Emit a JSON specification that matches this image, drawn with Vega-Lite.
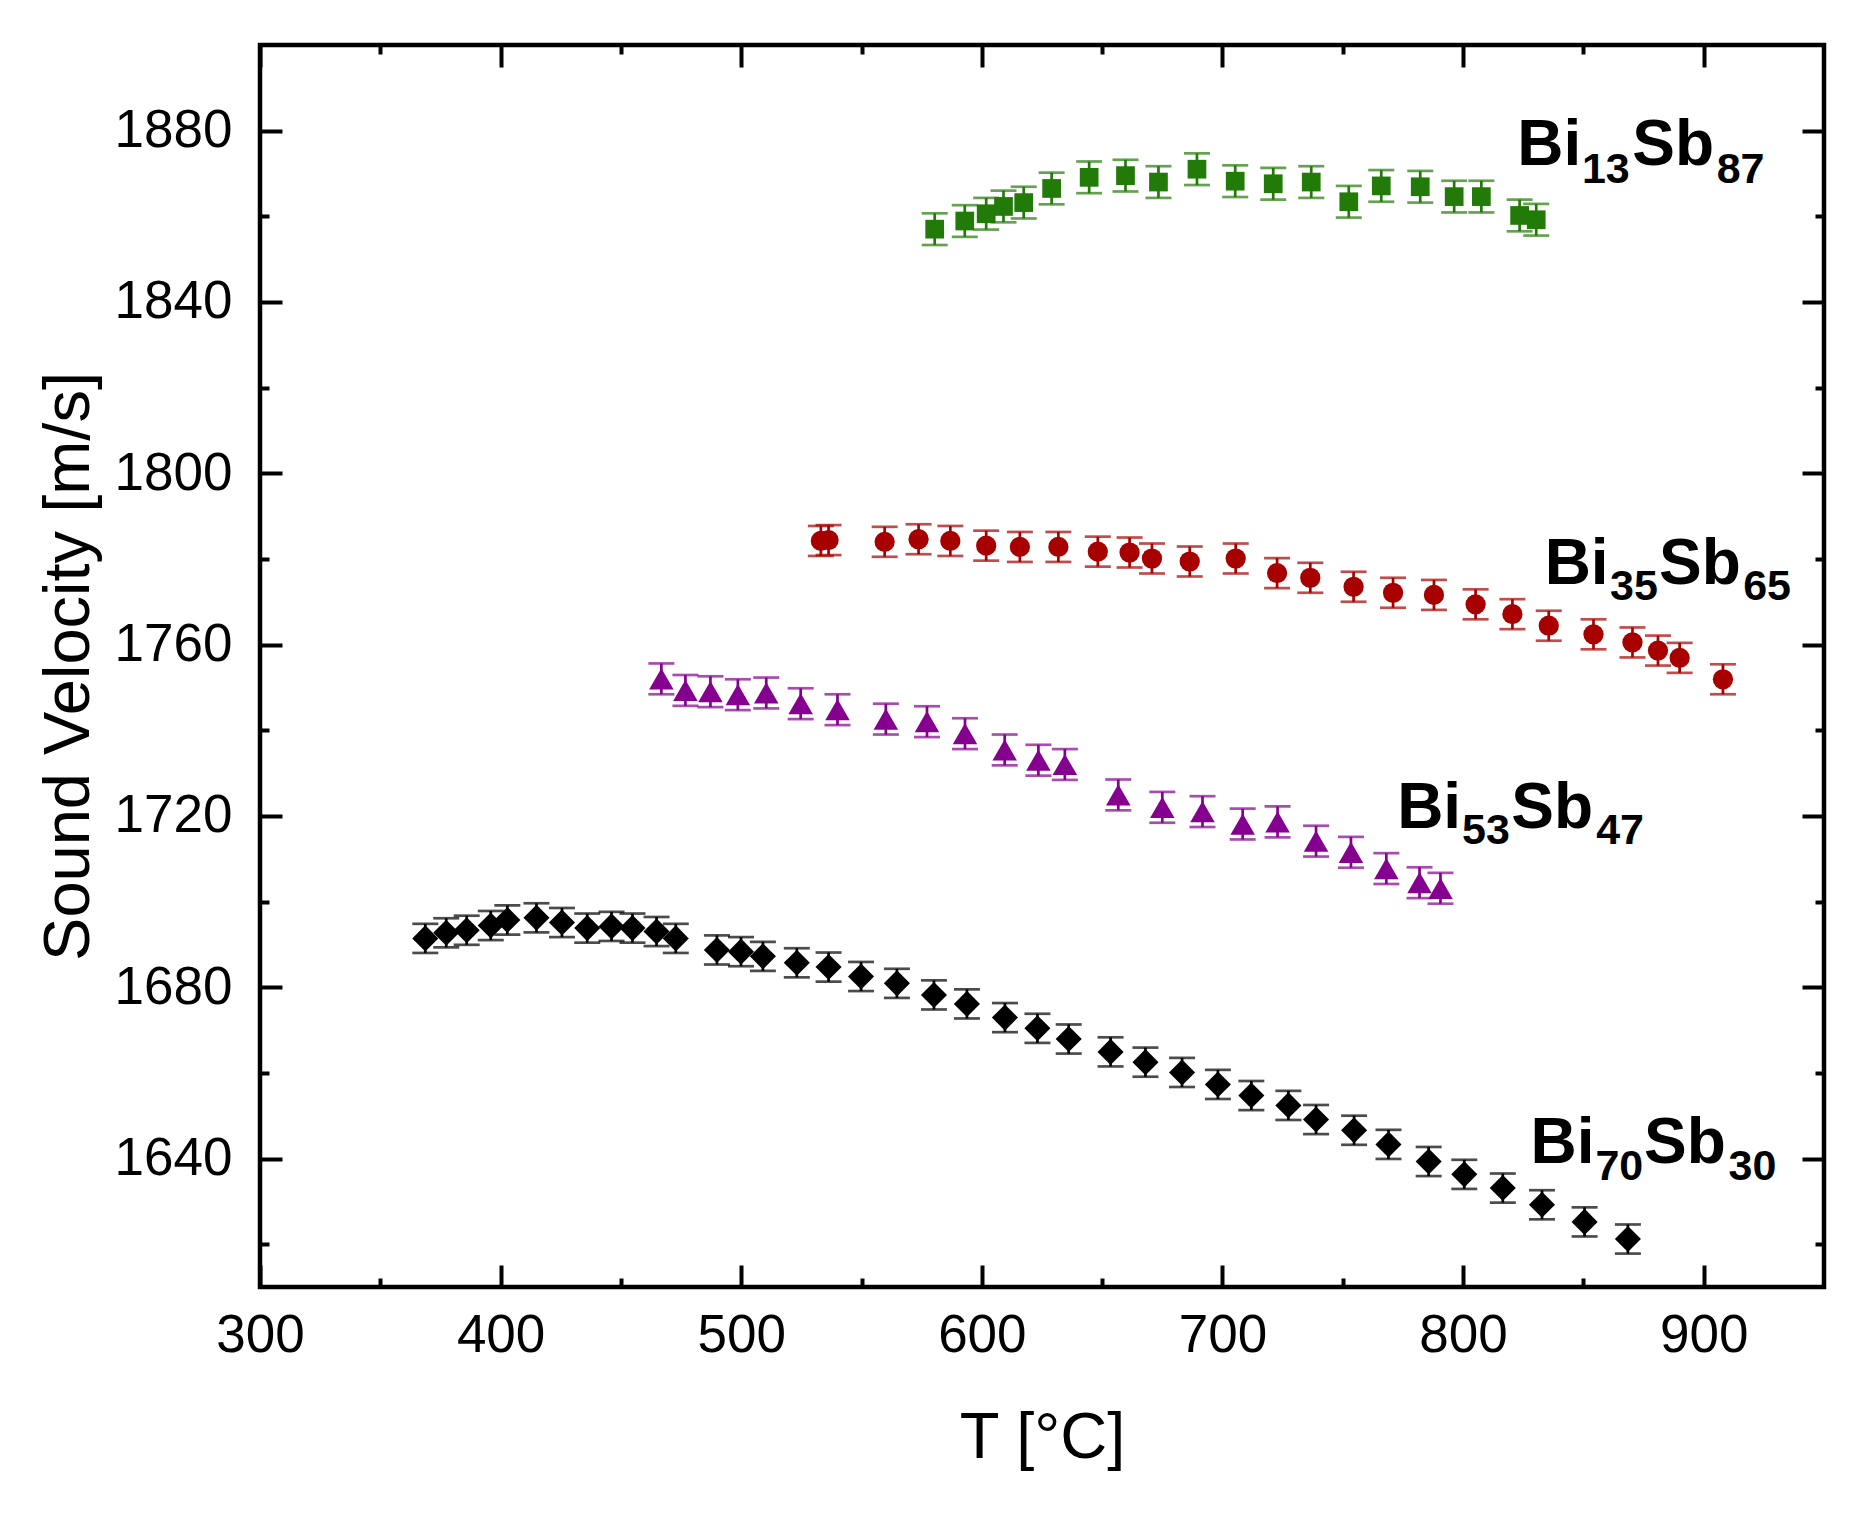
{
  "$schema": "https://vega.github.io/schema/vega-lite/v6.json",
  "width": 1564,
  "height": 1242,
  "autosize": "none",
  "padding": {"left": 260, "top": 45, "right": 51, "bottom": 229},
  "background": "white",
  "datasets": {
    "pts": [
      {"series": "Bi13Sb87", "T": 580.4, "v": 1857.0, "err": 3.7},
      {"series": "Bi13Sb87", "T": 592.9, "v": 1858.9, "err": 3.7},
      {"series": "Bi13Sb87", "T": 601.8, "v": 1860.6, "err": 3.7},
      {"series": "Bi13Sb87", "T": 609.0, "v": 1862.3, "err": 3.7},
      {"series": "Bi13Sb87", "T": 617.4, "v": 1863.2, "err": 3.7},
      {"series": "Bi13Sb87", "T": 629.0, "v": 1866.5, "err": 3.7},
      {"series": "Bi13Sb87", "T": 644.6, "v": 1869.1, "err": 3.7},
      {"series": "Bi13Sb87", "T": 659.7, "v": 1869.5, "err": 3.7},
      {"series": "Bi13Sb87", "T": 673.4, "v": 1868.0, "err": 3.7},
      {"series": "Bi13Sb87", "T": 689.4, "v": 1871.0, "err": 3.7},
      {"series": "Bi13Sb87", "T": 705.3, "v": 1868.2, "err": 3.7},
      {"series": "Bi13Sb87", "T": 721.1, "v": 1867.6, "err": 3.7},
      {"series": "Bi13Sb87", "T": 736.9, "v": 1868.0, "err": 3.7},
      {"series": "Bi13Sb87", "T": 752.5, "v": 1863.4, "err": 3.7},
      {"series": "Bi13Sb87", "T": 766.0, "v": 1867.1, "err": 3.7},
      {"series": "Bi13Sb87", "T": 782.2, "v": 1866.9, "err": 3.7},
      {"series": "Bi13Sb87", "T": 796.3, "v": 1864.6, "err": 3.7},
      {"series": "Bi13Sb87", "T": 807.6, "v": 1864.6, "err": 3.7},
      {"series": "Bi13Sb87", "T": 823.5, "v": 1860.2, "err": 3.7},
      {"series": "Bi13Sb87", "T": 830.4, "v": 1859.2, "err": 3.7},
      {"series": "Bi35Sb65", "T": 533.1, "v": 1784.2, "err": 3.5},
      {"series": "Bi35Sb65", "T": 536.3, "v": 1784.4, "err": 3.5},
      {"series": "Bi35Sb65", "T": 559.6, "v": 1784.0, "err": 3.5},
      {"series": "Bi35Sb65", "T": 573.7, "v": 1784.6, "err": 3.5},
      {"series": "Bi35Sb65", "T": 586.9, "v": 1784.2, "err": 3.5},
      {"series": "Bi35Sb65", "T": 601.8, "v": 1783.1, "err": 3.5},
      {"series": "Bi35Sb65", "T": 615.8, "v": 1782.8, "err": 3.5},
      {"series": "Bi35Sb65", "T": 631.8, "v": 1782.8, "err": 3.5},
      {"series": "Bi35Sb65", "T": 648.2, "v": 1781.7, "err": 3.5},
      {"series": "Bi35Sb65", "T": 661.4, "v": 1781.5, "err": 3.5},
      {"series": "Bi35Sb65", "T": 670.7, "v": 1780.1, "err": 3.5},
      {"series": "Bi35Sb65", "T": 686.4, "v": 1779.4, "err": 3.5},
      {"series": "Bi35Sb65", "T": 705.5, "v": 1780.1, "err": 3.5},
      {"series": "Bi35Sb65", "T": 722.7, "v": 1776.7, "err": 3.5},
      {"series": "Bi35Sb65", "T": 736.5, "v": 1775.6, "err": 3.5},
      {"series": "Bi35Sb65", "T": 754.5, "v": 1773.5, "err": 3.5},
      {"series": "Bi35Sb65", "T": 770.9, "v": 1772.1, "err": 3.5},
      {"series": "Bi35Sb65", "T": 787.9, "v": 1771.6, "err": 3.5},
      {"series": "Bi35Sb65", "T": 805.2, "v": 1769.4, "err": 3.5},
      {"series": "Bi35Sb65", "T": 820.5, "v": 1767.1, "err": 3.5},
      {"series": "Bi35Sb65", "T": 835.6, "v": 1764.4, "err": 3.5},
      {"series": "Bi35Sb65", "T": 854.2, "v": 1762.4, "err": 3.5},
      {"series": "Bi35Sb65", "T": 870.4, "v": 1760.5, "err": 3.5},
      {"series": "Bi35Sb65", "T": 881.0, "v": 1758.6, "err": 3.5},
      {"series": "Bi35Sb65", "T": 890.0, "v": 1756.9, "err": 3.5},
      {"series": "Bi35Sb65", "T": 908.0, "v": 1751.9, "err": 3.5},
      {"series": "Bi53Sb47", "T": 466.8, "v": 1752.0, "err": 3.6},
      {"series": "Bi53Sb47", "T": 476.8, "v": 1749.3, "err": 3.6},
      {"series": "Bi53Sb47", "T": 487.2, "v": 1749.0, "err": 3.6},
      {"series": "Bi53Sb47", "T": 498.6, "v": 1748.3, "err": 3.6},
      {"series": "Bi53Sb47", "T": 510.4, "v": 1748.7, "err": 3.6},
      {"series": "Bi53Sb47", "T": 524.7, "v": 1746.2, "err": 3.6},
      {"series": "Bi53Sb47", "T": 540.0, "v": 1744.8, "err": 3.6},
      {"series": "Bi53Sb47", "T": 560.1, "v": 1742.6, "err": 3.6},
      {"series": "Bi53Sb47", "T": 577.2, "v": 1742.0, "err": 3.6},
      {"series": "Bi53Sb47", "T": 593.0, "v": 1739.2, "err": 3.6},
      {"series": "Bi53Sb47", "T": 609.5, "v": 1735.4, "err": 3.6},
      {"series": "Bi53Sb47", "T": 623.5, "v": 1733.0, "err": 3.6},
      {"series": "Bi53Sb47", "T": 634.5, "v": 1732.0, "err": 3.6},
      {"series": "Bi53Sb47", "T": 656.7, "v": 1724.9, "err": 3.6},
      {"series": "Bi53Sb47", "T": 675.0, "v": 1722.0, "err": 3.6},
      {"series": "Bi53Sb47", "T": 691.7, "v": 1721.0, "err": 3.6},
      {"series": "Bi53Sb47", "T": 708.4, "v": 1718.1, "err": 3.6},
      {"series": "Bi53Sb47", "T": 722.9, "v": 1718.6, "err": 3.6},
      {"series": "Bi53Sb47", "T": 738.9, "v": 1714.1, "err": 3.6},
      {"series": "Bi53Sb47", "T": 753.4, "v": 1711.5, "err": 3.6},
      {"series": "Bi53Sb47", "T": 768.1, "v": 1707.7, "err": 3.6},
      {"series": "Bi53Sb47", "T": 781.9, "v": 1704.4, "err": 3.6},
      {"series": "Bi53Sb47", "T": 790.6, "v": 1703.1, "err": 3.6},
      {"series": "Bi70Sb30", "T": 368.7, "v": 1691.4, "err": 3.4},
      {"series": "Bi70Sb30", "T": 377.4, "v": 1692.7, "err": 3.4},
      {"series": "Bi70Sb30", "T": 385.9, "v": 1693.3, "err": 3.4},
      {"series": "Bi70Sb30", "T": 395.9, "v": 1694.4, "err": 3.4},
      {"series": "Bi70Sb30", "T": 402.8, "v": 1695.7, "err": 3.4},
      {"series": "Bi70Sb30", "T": 414.9, "v": 1696.2, "err": 3.4},
      {"series": "Bi70Sb30", "T": 425.5, "v": 1695.1, "err": 3.4},
      {"series": "Bi70Sb30", "T": 436.0, "v": 1693.8, "err": 3.4},
      {"series": "Bi70Sb30", "T": 446.1, "v": 1694.2, "err": 3.4},
      {"series": "Bi70Sb30", "T": 454.8, "v": 1693.8, "err": 3.4},
      {"series": "Bi70Sb30", "T": 464.8, "v": 1693.0, "err": 3.4},
      {"series": "Bi70Sb30", "T": 472.8, "v": 1691.4, "err": 3.4},
      {"series": "Bi70Sb30", "T": 489.9, "v": 1688.7, "err": 3.4},
      {"series": "Bi70Sb30", "T": 499.9, "v": 1688.3, "err": 3.4},
      {"series": "Bi70Sb30", "T": 509.0, "v": 1687.2, "err": 3.4},
      {"series": "Bi70Sb30", "T": 523.1, "v": 1685.7, "err": 3.4},
      {"series": "Bi70Sb30", "T": 536.3, "v": 1684.7, "err": 3.4},
      {"series": "Bi70Sb30", "T": 549.8, "v": 1682.5, "err": 3.4},
      {"series": "Bi70Sb30", "T": 564.7, "v": 1680.9, "err": 3.4},
      {"series": "Bi70Sb30", "T": 580.1, "v": 1678.2, "err": 3.4},
      {"series": "Bi70Sb30", "T": 593.8, "v": 1676.1, "err": 3.4},
      {"series": "Bi70Sb30", "T": 609.6, "v": 1672.9, "err": 3.4},
      {"series": "Bi70Sb30", "T": 623.1, "v": 1670.4, "err": 3.4},
      {"series": "Bi70Sb30", "T": 636.1, "v": 1667.9, "err": 3.4},
      {"series": "Bi70Sb30", "T": 653.5, "v": 1664.9, "err": 3.4},
      {"series": "Bi70Sb30", "T": 668.0, "v": 1662.5, "err": 3.4},
      {"series": "Bi70Sb30", "T": 683.2, "v": 1660.1, "err": 3.4},
      {"series": "Bi70Sb30", "T": 698.1, "v": 1657.3, "err": 3.4},
      {"series": "Bi70Sb30", "T": 712.0, "v": 1654.7, "err": 3.4},
      {"series": "Bi70Sb30", "T": 727.4, "v": 1652.4, "err": 3.4},
      {"series": "Bi70Sb30", "T": 738.9, "v": 1649.1, "err": 3.4},
      {"series": "Bi70Sb30", "T": 754.7, "v": 1646.6, "err": 3.4},
      {"series": "Bi70Sb30", "T": 769.0, "v": 1643.3, "err": 3.4},
      {"series": "Bi70Sb30", "T": 785.7, "v": 1639.3, "err": 3.4},
      {"series": "Bi70Sb30", "T": 800.5, "v": 1636.3, "err": 3.4},
      {"series": "Bi70Sb30", "T": 816.5, "v": 1633.1, "err": 3.4},
      {"series": "Bi70Sb30", "T": 832.8, "v": 1629.2, "err": 3.4},
      {"series": "Bi70Sb30", "T": 850.5, "v": 1625.2, "err": 3.4},
      {"series": "Bi70Sb30", "T": 868.5, "v": 1621.2, "err": 3.4}
    ],
    "labels": [
      {"label": "Bi13Sb87", "part": "main", "text": "Bi", "x": 822.5, "y": 1872.0},
      {"label": "Bi13Sb87", "part": "sub", "text": "13", "x": 849.4, "y": 1867.7},
      {"label": "Bi13Sb87", "part": "main", "text": "Sb", "x": 870.3, "y": 1872.0},
      {"label": "Bi13Sb87", "part": "sub", "text": "87", "x": 905.4, "y": 1867.7},
      {"label": "Bi35Sb65", "part": "main", "text": "Bi", "x": 833.9, "y": 1774.15},
      {"label": "Bi35Sb65", "part": "sub", "text": "35", "x": 861.1, "y": 1770.4},
      {"label": "Bi35Sb65", "part": "main", "text": "Sb", "x": 881.4, "y": 1774.15},
      {"label": "Bi35Sb65", "part": "sub", "text": "65", "x": 916.4, "y": 1770.4},
      {"label": "Bi53Sb47", "part": "main", "text": "Bi", "x": 772.6, "y": 1717.1},
      {"label": "Bi53Sb47", "part": "sub", "text": "53", "x": 799.6, "y": 1713.4},
      {"label": "Bi53Sb47", "part": "main", "text": "Sb", "x": 820.0, "y": 1717.1},
      {"label": "Bi53Sb47", "part": "sub", "text": "47", "x": 855.3, "y": 1713.4},
      {"label": "Bi70Sb30", "part": "main", "text": "Bi", "x": 828.0, "y": 1639.0},
      {"label": "Bi70Sb30", "part": "sub", "text": "70", "x": 855.0, "y": 1635.1},
      {"label": "Bi70Sb30", "part": "main", "text": "Sb", "x": 875.2, "y": 1639.0},
      {"label": "Bi70Sb30", "part": "sub", "text": "30", "x": 910.3, "y": 1635.1}
    ]
  },
  "layer": [
    {
      "data": {"name": "pts"},
      "mark": {"type": "errorbar", "ticks": {"size": 26}, "thickness": 2.7},
      "encoding": {
        "x": {
          "field": "T", "type": "quantitative",
          "scale": {"domain": [300, 950], "nice": false, "zero": false},
          "axis": {
            "orient": "bottom", "values": [300, 400, 500, 600, 700, 800, 900], "format": "d",
            "title": "T [°C]", "tickSize": -22, "labelPadding": 44, "labelFlush": false,
            "titleY": 170, "titleBaseline": "alphabetic"
          }
        },
        "y": {
          "field": "v", "type": "quantitative",
          "scale": {"domain": [1610, 1900], "nice": false, "zero": false},
          "axis": {
            "orient": "left", "values": [1640, 1680, 1720, 1760, 1800, 1840, 1880], "format": "d",
            "title": "Sound Velocity [m/s]", "tickSize": -22, "labelPadding": 50, "labelFlush": false,
            "titleX": -172, "titleY": 621, "titleAngle": -90,
            "titleBaseline": "alphabetic", "titleAlign": "center"
          }
        },
        "yError": {"field": "err"},
        "color": {
          "field": "series", "type": "nominal", "legend": null,
          "scale": {
            "domain": ["Bi13Sb87", "Bi35Sb65", "Bi53Sb47", "Bi70Sb30"],
            "range": ["#227a08", "#a80000", "#85008f", "#000000"]
          }
        }
      }
    },
    {
      "data": {"name": "pts"},
      "mark": {"type": "point", "filled": true, "opacity": 1},
      "encoding": {
        "x": {
          "field": "T", "type": "quantitative",
          "scale": {"domain": [300, 950], "nice": false, "zero": false},
          "axis": {"orient": "top", "values": [300, 400, 500, 600, 700, 800, 900], "labels": false, "title": null, "tickSize": -22}
        },
        "y": {
          "field": "v", "type": "quantitative",
          "scale": {"domain": [1610, 1900], "nice": false, "zero": false},
          "axis": {"orient": "right", "values": [1640, 1680, 1720, 1760, 1800, 1840, 1880], "labels": false, "title": null, "tickSize": -22}
        },
        "color": {"field": "series", "type": "nominal", "legend": null},
        "shape": {
          "field": "series", "type": "nominal", "legend": null,
          "scale": {
            "domain": ["Bi13Sb87", "Bi35Sb65", "Bi53Sb47", "Bi70Sb30"],
            "range": ["square", "circle", "triangle-up", "diamond"]
          }
        },
        "size": {
          "field": "series", "type": "nominal", "legend": null,
          "scale": {
            "type": "ordinal",
            "domain": ["Bi13Sb87", "Bi35Sb65", "Bi53Sb47", "Bi70Sb30"],
            "range": [350, 410, 600, 680]
          }
        }
      }
    },
    {
      "data": {"name": "labels"},
      "transform": [{"filter": "datum.part == 'main'"}],
      "mark": {"type": "text", "align": "left", "baseline": "alphabetic", "fontSize": 64, "fontWeight": "bold", "font": "Liberation Sans", "color": "black"},
      "encoding": {
        "x": {
          "field": "x", "type": "quantitative",
          "scale": {"domain": [300, 950], "nice": false, "zero": false},
          "axis": {"orient": "bottom", "values": [350, 450, 550, 650, 750, 850], "labels": false, "title": null, "tickSize": -9}
        },
        "y": {
          "field": "y", "type": "quantitative",
          "scale": {"domain": [1610, 1900], "nice": false, "zero": false},
          "axis": {"orient": "left", "values": [1620, 1660, 1700, 1740, 1780, 1820, 1860], "labels": false, "title": null, "tickSize": -9}
        },
        "text": {"field": "text"}
      }
    },
    {
      "data": {"name": "labels"},
      "transform": [{"filter": "datum.part == 'sub'"}],
      "mark": {"type": "text", "align": "left", "baseline": "alphabetic", "fontSize": 43, "fontWeight": "bold", "font": "Liberation Sans", "color": "black"},
      "encoding": {
        "x": {
          "field": "x", "type": "quantitative",
          "scale": {"domain": [300, 950], "nice": false, "zero": false},
          "axis": {"orient": "top", "values": [350, 450, 550, 650, 750, 850], "labels": false, "title": null, "tickSize": -9}
        },
        "y": {
          "field": "y", "type": "quantitative",
          "scale": {"domain": [1610, 1900], "nice": false, "zero": false},
          "axis": {"orient": "right", "values": [1620, 1660, 1700, 1740, 1780, 1820, 1860], "labels": false, "title": null, "tickSize": -9}
        },
        "text": {"field": "text"}
      }
    }
  ],
  "resolve": {"axis": {"x": "independent", "y": "independent"}},
  "config": {
    "view": {"stroke": "black", "strokeWidth": 4.5},
    "font": "Liberation Sans",
    "axis": {
      "domain": false,
      "grid": false,
      "tickColor": "black",
      "tickWidth": 4,
      "labelColor": "black",
      "labelFont": "Liberation Sans",
      "labelFontSize": 53,
      "titleFont": "Liberation Sans",
      "titleFontSize": 65,
      "titleFontWeight": "normal",
      "titleColor": "black"
    }
  }
}
